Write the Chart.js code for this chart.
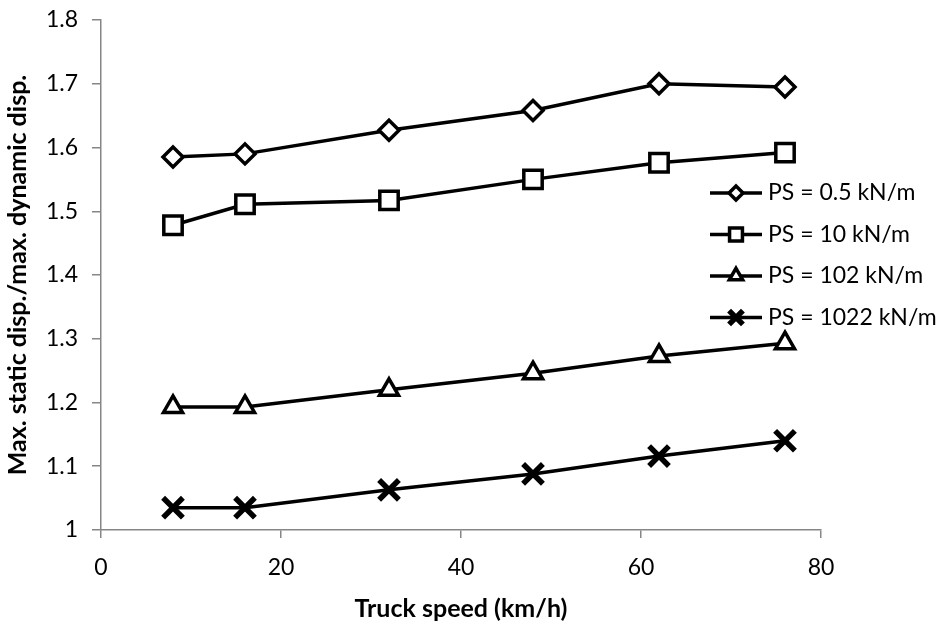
<!DOCTYPE html>
<html>
<head>
<meta charset="utf-8">
<script src="https://cdn.jsdelivr.net/npm/chart.js@4.4.1/dist/chart.umd.min.js"></script>
<style>
    html, body { margin: 0; padding: 0; background: #fff; }
    #caixa { width: 943px; height: 621px; }
</style>
</head>
<body>
<div id="caixa"><canvas id="grafico-deslocamento"></canvas></div>
<script>
// Dados
const velocidades = [8, 16, 32, 48, 62, 76];
const ps05 = [1.585, 1.590, 1.627, 1.658, 1.700, 1.695];
const ps10 = [1.478, 1.511, 1.517, 1.550, 1.576, 1.592];
const ps102 = [1.193, 1.193, 1.220, 1.246, 1.273, 1.293];
const ps1022 = [1.035, 1.035, 1.063, 1.088, 1.116, 1.140];
const rotulosSeries = ["PS = 0.5 kN/m", "PS = 10 kN/m", "PS = 102 kN/m", "PS = 1022 kN/m"];
const ticksX = [0, 20, 40, 60, 80];
const ticksY = [1, 1.1, 1.2, 1.3, 1.4, 1.5, 1.6, 1.7, 1.8];

const cinza = "#868686";
const fonte = "Lato, 'Open Sans', sans-serif";

function pares(valores) {
    return velocidades.map((v, i) => ({ x: v, y: valores[i] }));
}

function serie(label, valores, estilo, raio, larguraPonto) {
    return {
        label: label,
        data: pares(valores),
        borderColor: "#000",
        borderWidth: 3.5,
        tension: 0,
        pointStyle: estilo,
        pointRadius: raio,
        pointHoverRadius: raio,
        pointBorderWidth: larguraPonto,
        pointBorderColor: "#000",
        pointBackgroundColor: "#fff"
    };
}

// Legenda desenhada dentro da área do gráfico
const legendaInterna = {
    id: "legendaInterna",
    afterDraw(chart) {
        const ctx = chart.ctx;
        ctx.save();
        chart.data.datasets.forEach((ds, i) => {
            const y = 193 + i * 41.5;
            ctx.strokeStyle = "#000";
            ctx.lineWidth = 3.5;
            ctx.beginPath();
            ctx.moveTo(710, y);
            ctx.lineTo(762, y);
            ctx.stroke();
            if (Chart.helpers && Chart.helpers.drawPoint) {
                ctx.fillStyle = "#fff";
                ctx.strokeStyle = "#000";
                ctx.lineWidth = ds.pointBorderWidth;
                Chart.helpers.drawPoint(ctx, {
                    pointStyle: ds.pointStyle,
                    radius: ds.pointRadius * 0.7,
                    rotation: 0,
                    borderWidth: ds.pointBorderWidth
                }, 736, y);
            }
            ctx.fillStyle = "#000";
            ctx.font = "23px " + fonte;
            ctx.textAlign = "left";
            ctx.textBaseline = "middle";
            ctx.fillText(ds.label, 768, y);
        });
        ctx.restore();
    }
};

const configDeslocamento = {
    type: "line",
    data: {
        datasets: [
            serie(rotulosSeries[0], ps05, "rectRot", 10, 3.5),
            serie(rotulosSeries[1], ps10, "rect", 13, 3.5),
            serie(rotulosSeries[2], ps102, "triangle", 11, 3.5),
            serie(rotulosSeries[3], ps1022, "crossRot", 14, 5.5)
        ]
    },
    options: {
        responsive: true,
        maintainAspectRatio: false,
        animation: false,
        events: [],
        layout: { padding: { top: 20, right: 122, left: 0, bottom: 0 } },
        plugins: {
            legend: { display: false },
            tooltip: { enabled: false }
        },
        scales: {
            x: {
                type: "linear",
                min: 0,
                max: 80,
                afterBuildTicks: s => { s.ticks = ticksX.map(v => ({ value: v })); },
                afterFit: s => { s.height = 91; },
                border: { color: cinza, width: 1.5 },
                grid: { drawOnChartArea: false, drawTicks: true, tickLength: 8, color: cinza, lineWidth: 1.5 },
                ticks: { color: "#000", font: { family: fonte, size: 23 }, padding: 16 },
                title: {
                    display: true,
                    text: "Truck speed (km/h)",
                    color: "#000",
                    font: { family: fonte, size: 25, weight: "bold", lineHeight: 1.0 },
                    padding: { top: 0, bottom: 0 }
                }
            },
            y: {
                type: "linear",
                min: 1,
                max: 1.8,
                afterBuildTicks: s => { s.ticks = ticksY.map(v => ({ value: v })); },
                afterFit: s => { s.width = 101; s.paddingTop = 0; s.paddingBottom = 0; },
                border: { color: cinza, width: 1.5 },
                grid: { drawOnChartArea: false, drawTicks: true, tickLength: 9, color: cinza, lineWidth: 1.5 },
                ticks: {
                    color: "#000",
                    font: { family: fonte, size: 23 },
                    padding: 14,
                    callback: v => String(Math.round(v * 10) / 10)
                },
                title: {
                    display: true,
                    text: "Max. static disp./max. dynamic disp.",
                    color: "#000",
                    font: { family: fonte, size: 25, weight: "bold", lineHeight: 1.0 },
                    padding: { top: 5, bottom: 0 }
                }
            }
        }
    },
    plugins: [legendaInterna]
};

let meuGraficoDeslocamento = new Chart(
    document.getElementById("grafico-deslocamento"),
    configDeslocamento
);
</script>
</body>
</html>
